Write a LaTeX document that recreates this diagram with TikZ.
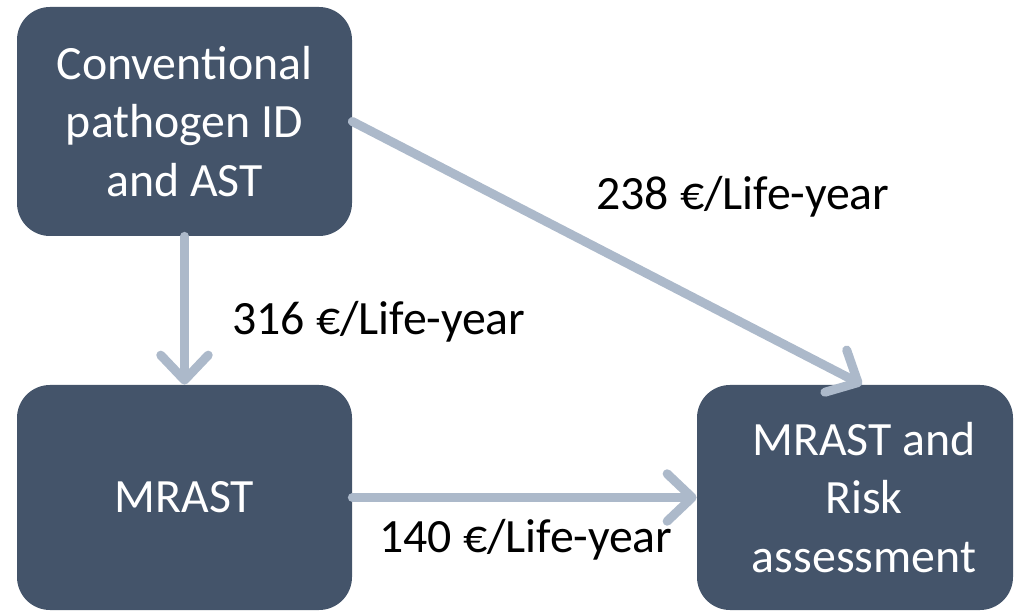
\documentclass[tikz,border=0pt]{standalone}
\usepackage{fontspec}
\setmainfont{Carlito}
\usepackage{tikz}
\usetikzlibrary{positioning,arrows.meta}
\definecolor{boxslate}{HTML}{44546A}
\definecolor{arrowblue}{HTML}{ACB9CA}

\begin{document}
\begin{tikzpicture}[
  stage/.style={
    fill=boxslate, text=white, rounded corners=0.66cm,
    minimum width=6.7cm, minimum height=4.5cm,
    align=center, font=\fontsize{27.2}{33.5}\selectfont
  },
  cost/.style={
    font=\fontsize{27.2}{33.5}\selectfont
  },
  flow/.style={
    draw=arrowblue, line width=0.18cm, line cap=round,
    -{Straight Barb[length=0.5cm, width=0.95cm, round]}
  }
]
\useasboundingbox (0,0) rectangle (20.28,12.26);

% Cajas
\node[stage, minimum height=4.58cm] (conv) at (3.69, 9.83) {Conventional\\pathogen ID\\and AST};
\node[stage] (mrast) at (3.69, 2.31) {MRAST};
\node[stage, minimum width=6.32cm] (risk) at (17.10, 2.31) {\hspace*{0.36cm}MRAST and\\\hspace*{0.36cm}Risk\\\hspace*{0.36cm}assessment};

% Flechas
\draw[flow] (conv.south) -- (mrast.north);
\draw[flow] (conv.east) -- ([xshift=0.14cm]risk.north);
\draw[flow] (mrast.east) -- (risk.west);

% Costes
\node[cost] (c238) at (14.86, 8.32) {238 €/Life-year};
\node[cost] (c316) at (7.58, 5.82) {316 €/Life-year};
\node[cost] (c140) at (10.52, 1.46) {140 €/Life-year};
\end{tikzpicture}
\end{document}
